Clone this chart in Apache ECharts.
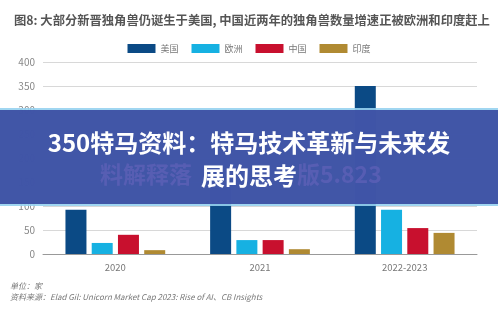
<!DOCTYPE html>
<html><head><meta charset="utf-8">
<script src="https://cdn.jsdelivr.net/npm/echarts@6/dist/echarts.min.js"></script>
<style>html,body{margin:0;padding:0;background:#fff}#c{width:498px;height:318px}</style>
</head><body><div id="c"></div>
<script>
const categories = ['2020', '2021', '2022-2023'];
const seriesNames = ['美国', '欧洲', '中国', '印度'];
const usa = [92, 138, 350];
const europe = [23, 29, 92];
const china = [40, 29, 54];
const india = [8, 10, 44];
const yTicks = [0, 400, 50];
const colors = ['#0b4a85', '#16b1e2', '#c8102e', '#b08a32'];
const font = '"Noto Sans CJK SC", "Noto Sans", sans-serif';

const chart = echarts.init(document.getElementById('c'));
const data = [usa, europe, china, india];
chart.setOption({
  animation: false,
  textStyle: { fontFamily: font },
  title: {
    text: '图8: 大部分新晋独角兽仍诞生于美国, 中国近两年的独角兽数量增速正被欧洲和印度赶上',
    left: 9, top: 9,
    textStyle: { fontSize: 12.3, fontWeight: 'bold', color: '#555', fontFamily: font }
  },
  legend: {
    top: 39, left: 'center',
    itemWidth: 28, itemHeight: 9, itemGap: 13,
    icon: 'rect',
    textStyle: { fontSize: 9, color: '#777', fontFamily: font },
    data: seriesNames
  },
  grid: { left: 43, right: 21, top: 62, bottom: 64 },
  xAxis: {
    type: 'category', data: categories,
    axisTick: { show: false },
    axisLine: { lineStyle: { color: '#999' } },
    axisLabel: { color: '#777', fontSize: 9.5, margin: 9 }
  },
  yAxis: {
    type: 'value', min: yTicks[0], max: yTicks[1], interval: yTicks[2],
    axisLine: { show: false }, axisTick: { show: false },
    axisLabel: { color: '#888', fontSize: 10, margin: 8 },
    splitLine: { lineStyle: { color: '#d8d8d8' } }
  },
  series: seriesNames.map((n, i) => ({
    name: n, type: 'bar', data: data[i], barWidth: 21, barGap: '25%',
    itemStyle: { color: colors[i] }
  })),
  graphic: [
    { type: 'text', left: 10, top: 282, style: { text: '单位：家', fontSize: 8, fontStyle: 'italic', fill: '#777', fontFamily: font } },
    { type: 'text', left: 10, top: 293, style: { text: '资料来源：Elad Gil: Unicorn Market Cap 2023: Rise of AI、CB Insights', fontSize: 8, fontStyle: 'italic', fill: '#777', fontFamily: font } },
    { type: 'rect', shape: { x: 0, y: 108, width: 498, height: 98 }, style: { fill: 'rgba(150,210,240,0.9)' }, z: 100 },
    { type: 'rect', shape: { x: 0, y: 110, width: 498, height: 94 }, style: { fill: 'rgba(55,72,160,0.9)' }, z: 101 },
    { type: 'text', x: 100, y: 163, style: { text: '料解释落', fontSize: 23, fontWeight: 'bold', fill: 'rgba(115,105,195,0.45)', fontFamily: font }, z: 102 },
    { type: 'text', x: 297, y: 163, style: { text: '版5.823', fontSize: 23, fontWeight: 'bold', fill: 'rgba(115,105,195,0.45)', fontFamily: font }, z: 102 },
    { type: 'text', x: 249, y: 143, style: { text: '350特马资料：特马技术革新与未来发', fontSize: 24, fontWeight: 'bold', fill: '#fff', align: 'center', verticalAlign: 'middle', fontFamily: font }, z: 103 },
    { type: 'text', x: 249, y: 176, style: { text: '展的思考', fontSize: 24, fontWeight: 'bold', fill: '#fff', align: 'center', verticalAlign: 'middle', fontFamily: font }, z: 103 }
  ]
});
</script></body></html>
